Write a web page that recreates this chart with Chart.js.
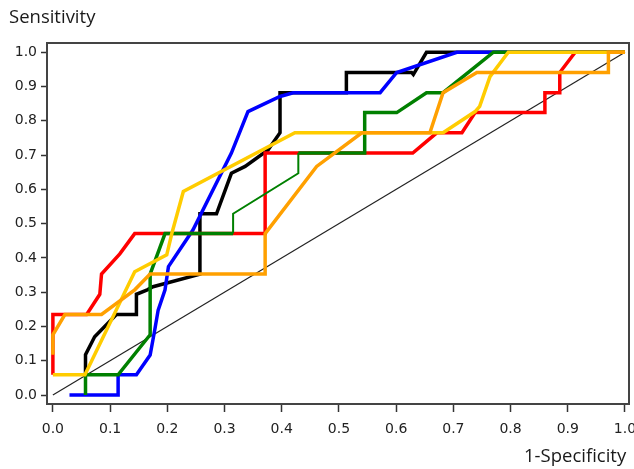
<!DOCTYPE html>
<html>
<head>
<meta charset="utf-8">
<script src="https://cdn.jsdelivr.net/npm/chart.js@4/dist/chart.umd.min.js"></script>
<style>
html, body { margin: 0; padding: 0; background: #fff; }
#wrap { position: relative; width: 634px; height: 469px; overflow: hidden; }
#chart { position: absolute; left: 0; top: 0; }
.axis-title { position: absolute; font-family: "Open Sans", sans-serif; font-size: 18.5px; color: #1a1a1a; white-space: nowrap; }
#ytitle { left: 9px; top: 3px; }
#xtitle { left: 524px; top: 442px; }
</style>
</head>
<body>
<div id="wrap">
  <canvas id="chart" width="634" height="469"></canvas>
  <div id="ytitle" class="axis-title">Sensitivity</div>
  <div id="xtitle" class="axis-title">1-Specificity</div>
</div>
<script>
// tick values / labels
var xTicks = [0, 0.1, 0.2, 0.3, 0.4, 0.5, 0.6, 0.7, 0.8, 0.9, 1.0];
var yTicks = [0, 0.1, 0.2, 0.3, 0.4, 0.5, 0.6, 0.7, 0.8, 0.9, 1.0];
var tickLabels = ['0.0', '0.1', '0.2', '0.3', '0.4', '0.5', '0.6', '0.7', '0.8', '0.9', '1.0'];

// ROC curves: 1-specificity (X) and sensitivity (Y)
var blackX = [0.057, 0.057, 0.073, 0.111, 0.146, 0.146, 0.165, 0.175, 0.257, 0.257, 0.286, 0.312, 0.336, 0.376, 0.397, 0.397, 0.513, 0.513, 0.627, 0.630, 0.653, 1.0];
var blackY = [0.059, 0.118, 0.170, 0.235, 0.235, 0.294, 0.307, 0.316, 0.353, 0.529, 0.529, 0.647, 0.667, 0.715, 0.765, 0.882, 0.882, 0.941, 0.941, 0.935, 1.0, 1.0];

var blueX = [0.029, 0.114, 0.114, 0.146, 0.170, 0.178, 0.184, 0.196, 0.202, 0.245, 0.312, 0.341, 0.397, 0.420, 0.572, 0.601, 0.706, 1.0];
var blueY = [0, 0, 0.059, 0.059, 0.117, 0.190, 0.248, 0.307, 0.375, 0.482, 0.706, 0.827, 0.871, 0.882, 0.882, 0.941, 1.0, 1.0];

var redX = [0, 0, 0.059, 0.082, 0.085, 0.117, 0.143, 0.371, 0.371, 0.629, 0.671, 0.715, 0.738, 0.746, 0.860, 0.860, 0.886, 0.886, 0.913, 1.0];
var redY = [0.059, 0.235, 0.235, 0.294, 0.353, 0.412, 0.471, 0.471, 0.706, 0.706, 0.765, 0.765, 0.824, 0.824, 0.824, 0.882, 0.882, 0.941, 1.0, 1.0];

var greenX = [0.057, 0.057, 0.114, 0.170, 0.170, 0.187, 0.196, 0.315, 0.315, 0.429, 0.429, 0.545, 0.545, 0.601, 0.653, 0.682, 0.770, 1.0];
var greenY = [0, 0.059, 0.059, 0.176, 0.353, 0.430, 0.471, 0.471, 0.529, 0.647, 0.706, 0.706, 0.824, 0.824, 0.882, 0.882, 1.0, 1.0];

var yellowX = [0, 0.056, 0.143, 0.199, 0.208, 0.228, 0.423, 0.682, 0.738, 0.746, 0.764, 0.796, 1.0];
var yellowY = [0.059, 0.059, 0.360, 0.409, 0.472, 0.594, 0.765, 0.765, 0.827, 0.842, 0.929, 1.0, 1.0];

var orangeX = [0, 0, 0.021, 0.085, 0.143, 0.170, 0.371, 0.371, 0.461, 0.540, 0.659, 0.682, 0.741, 0.971, 0.971, 1.0];
var orangeY = [0.118, 0.176, 0.235, 0.235, 0.307, 0.353, 0.353, 0.471, 0.667, 0.765, 0.765, 0.882, 0.941, 0.941, 1.0, 1.0];

var refX = [0, 1];
var refY = [0, 1];

function pts(xs, ys) {
  return xs.map(function (x, i) { return { x: x, y: ys[i] }; });
}

function curve(xs, ys, color) {
  return {
    data: pts(xs, ys),
    borderColor: color,
    borderWidth: 3.5,
    pointRadius: 0,
    tension: 0,
    fill: false
  };
}

var green = curve(greenX, greenY, '#008000');
// the middle part of the green curve is drawn thinner
green.segment = {
  borderWidth: function (ctx) {
    var x0 = greenX[ctx.p0DataIndex], x1 = greenX[ctx.p1DataIndex];
    return (x0 >= 0.31 && x1 <= 0.43) ? 2 : 3.5;
  }
};

var ref = curve(refX, refY, '#222');
ref.borderWidth = 1.2;

// box around the plot area
var framePlugin = {
  id: 'frame',
  afterDraw: function (chart) {
    var a = chart.chartArea, ctx = chart.ctx;
    ctx.save();
    ctx.strokeStyle = '#444';
    ctx.lineWidth = 2;
    ctx.strokeRect(a.left, a.top, a.right - a.left, a.bottom - a.top);
    ctx.restore();
  }
};

var tickFont = { family: '"DejaVu Sans", sans-serif', size: 14 };

new Chart(document.getElementById('chart'), {
  type: 'line',
  data: {
    // first dataset is drawn on top
    datasets: [
      curve(orangeX, orangeY, '#ffa000'),
      curve(yellowX, yellowY, '#ffcc00'),
      green,
      curve(redX, redY, '#ff0000'),
      curve(blueX, blueY, '#0000ff'),
      curve(blackX, blackY, '#000000'),
      ref
    ]
  },
  options: {
    responsive: false,
    animation: false,
    devicePixelRatio: 1,
    layout: { padding: { top: 43, right: 5, left: 0, bottom: 0 } },
    plugins: { legend: { display: false }, tooltip: { enabled: false } },
    scales: {
      x: {
        type: 'linear',
        min: -0.0103,
        max: 1.007,
        afterBuildTicks: function (s) { s.ticks = xTicks.map(function (v) { return { value: v }; }); },
        afterFit: function (s) { s.height = 65; s.paddingLeft = 0; s.paddingRight = 0; },
        ticks: {
          autoSkip: false, maxRotation: 0, padding: 9, color: '#222', font: tickFont,
          callback: function (v, i) { return tickLabels[i]; }
        },
        grid: { display: true, drawOnChartArea: false, drawTicks: true, tickLength: 8, tickWidth: 1.5, tickColor: '#333' },
        border: { display: false }
      },
      y: {
        type: 'linear',
        min: -0.026,
        max: 1.027,
        afterBuildTicks: function (s) { s.ticks = yTicks.map(function (v) { return { value: v }; }); },
        afterFit: function (s) { s.width = 47; s.paddingTop = 0; s.paddingBottom = 0; },
        ticks: {
          autoSkip: false, padding: 4, color: '#222', font: tickFont,
          callback: function (v, i) { return tickLabels[i]; }
        },
        grid: { display: true, drawOnChartArea: false, drawTicks: true, tickLength: 6, tickWidth: 1.5, tickColor: '#333' },
        border: { display: false }
      }
    }
  },
  plugins: [framePlugin]
});
</script>
</body>
</html>
